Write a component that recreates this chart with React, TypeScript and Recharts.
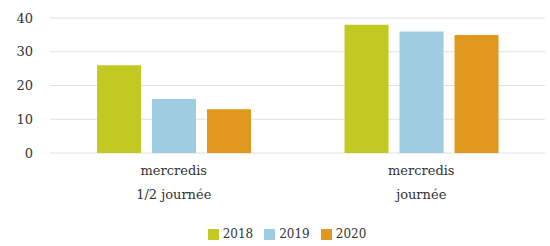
import React from "react";
import { BarChart, Bar, XAxis, YAxis, CartesianGrid, Legend } from "recharts";

const categories = ["mercredis\n1/2 journée", "mercredis\njournée"];
const values2018 = [26, 38];
const values2019 = [16, 36];
const values2020 = [13, 35];
const yTicks = [0, 10, 20, 30, 40];

const series = [
  { key: "2018", values: values2018, color: "#c3c923" },
  { key: "2019", values: values2019, color: "#9fcce0" },
  { key: "2020", values: values2020, color: "#df981d" },
];

const data = categories.map((c, i) => {
  const row: any = { name: c };
  series.forEach((s) => (row[s.key] = s.values[i]));
  return row;
});

const FONT = "'DejaVu Serif', serif";
const TEXT = "#333333";

const XTick = (props: any) => {
  const { x, y, payload } = props;
  const lines = String(payload.value).split("\n");
  return (
    <g transform={`translate(${x},${y})`}>
      {lines.map((l: string, i: number) => (
        <text
          key={i}
          x={0}
          y={0}
          dy={14 + i * 24}
          textAnchor="middle"
          fill={TEXT}
          fontFamily={FONT}
          fontSize={13}
        >
          {l}
        </text>
      ))}
    </g>
  );
};

const LegendContent = () => (
  <div
    style={{
      display: "flex",
      justifyContent: "center",
      alignItems: "center",
      height: 24,
      fontFamily: FONT,
      fontSize: 12,
      color: TEXT,
      paddingLeft: 40,
    }}
  >
    {series.map((s) => (
      <span key={s.key} style={{ display: "inline-flex", alignItems: "center", marginRight: 11 }}>
        <span style={{ width: 11, height: 11, background: s.color, display: "inline-block", marginRight: 4 }} />
        {s.key}
      </span>
    ))}
  </div>
);

export default function App() {
  return (
    <div style={{ position: "absolute", left: 0, top: 0, background: "#fff" }}>
      <BarChart
        width={550}
        height={246}
        data={data}
        margin={{ top: 18, right: 5, left: 0, bottom: 0 }}
        barCategoryGap="19%"
        barGap={11}
      >
        <CartesianGrid vertical={false} stroke="#e0e0e0" />
        <XAxis
          dataKey="name"
          axisLine={false}
          tickLine={false}
          height={69}
          tick={<XTick />}
          interval={0}
        />
        <YAxis
          domain={[0, 40]}
          ticks={yTicks}
          width={50}
          axisLine={false}
          tickLine={false}
          tickMargin={11}
          tick={{ fill: TEXT, fontFamily: FONT, fontSize: 13 }}
        />
        <Legend
          verticalAlign="bottom"
          content={<LegendContent />}
          wrapperStyle={{ height: 24 }}
        />
        {series.map((s) => (
          <Bar key={s.key} dataKey={s.key} fill={s.color} isAnimationActive={false} />
        ))}
      </BarChart>
    </div>
  );
}
